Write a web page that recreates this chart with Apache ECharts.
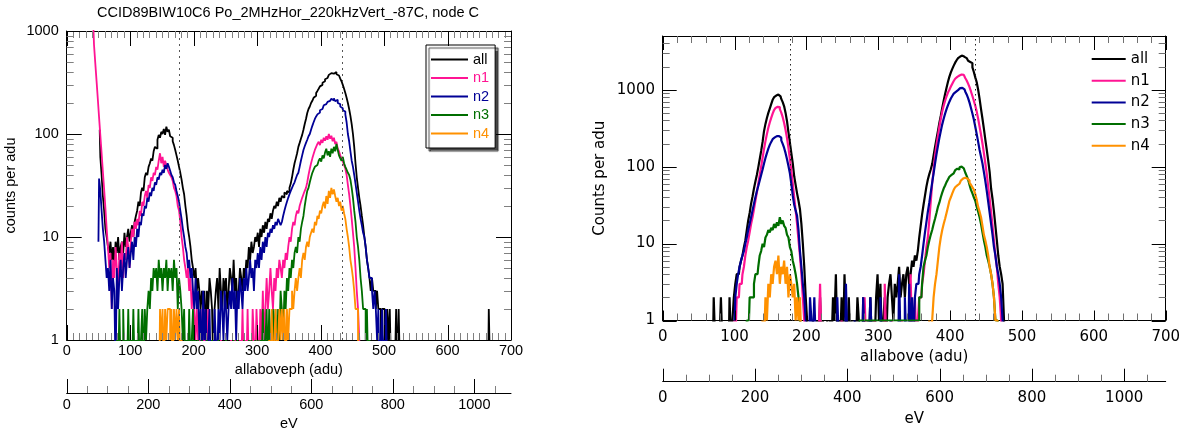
<!DOCTYPE html>
<html><head><meta charset="utf-8">
<script src="https://cdn.jsdelivr.net/npm/echarts@6.0.0/dist/echarts.min.js"></script>
<style>html,body{margin:0;padding:0;background:#fff}#c{width:1180px;height:429px}</style>
</head><body><div id="c"></div>
<script>
// ---------- data ----------
const BIN = 2;            // histogram bin width (adu)
const FLOOR = 0.5;        // empty bins are drawn below the log axis minimum
const EV_PER_ADU = 1.557; // secondary eV axis scale
const REF_ADU = [177.8, 434.5];
const SERIES_NAMES = ['all', 'n1', 'n2', 'n3', 'n4'];
const COLORS = ['#000000', '#ff1493', '#000096', '#006e00', '#ff9100'];
const TITLE_LEFT = 'CCID89BIW10C6 Po_2MHzHor_220kHzVert_-87C, node C';
const ADU_MAJOR = [0, 100, 200, 300, 400, 500, 600, 700];
const EV_MAJOR = [0, 200, 400, 600, 800, 1000];
const EV_MINOR = [50, 100, 150, 250, 300, 350, 450, 500, 550, 650, 700, 750, 850, 900, 950, 1050];
const LOG_MAJOR = [1, 10, 100, 1000];
const L_LOG_MINOR = [2,3,4,5,6,7,8,9,20,30,40,50,60,70,80,90,200,300,400,500,600,700,800,900];
const R_LOG_MINOR = [2,3,4,5,6,7,8,9,20,30,40,50,60,70,80,90,200,300,400,500,600,700,800,900,2000,3000,4000];

// left panel (allaboveph), segments: [first bin centre, counts...]
const L_all = [[52, [110,60,40,25,18,12,10,8,
  7,9,6,8,5,9,7,10,6,8,9,7,11,8,10,12,9,11,13,10,14,16,
  18,22,20,27,30,28,38,42,40,48,52,58,55,68,75,72,88,98,92,105,
  100,112,98,118,105,110,95,92,85,78,70,62,55,48,42,36,30,26,20,16,
  12,10,8,6,5,4,5,3,4,3,
  2,3,2,3,1,3,2,4,3,2,0,2,3,4,2,5,3,2,4,3,4,2,3,5,4,3,6,3,4,2,3,5,4,3,
  5,4,6,5,8,6,9,7,8,10, 9,11,8,12,10,13,11,14,12,15, 14,17,15,18,20,19,22,20,24,22,
  25,24,27,26,28,27,30,33,38,45, 52,58,65,75,82,90,98,110,125,140,
  160,175,185,200,210,225,235,250,262,275, 290,300,315,325,340,350,365,375,380,390,
  395,385,400,380,370,360,345,325,300,275, 250,225,200,175,150,125,100,75,52,38,
  30,24,20,16,13,10,8,6,5,4, 3,4,3,3,2,3,2,2,1,2, 2,1,0,2,1,2,0,0,1,0, 2,0,2,0]],
  [664, [0,2,0]]];
const L_n1 = [[42, [1100,740,490,330,220,145,97,65,43,29,19,12,
  8,5,7,2,6,4,8,5,3,7, 5,9,4,7,6,10,8,5,9,12, 10,14,12,15,13,18,16,22,20,25,
  28,24,32,30,38,35,42,40,48,45, 55,65,52,60,48,55,50,45,42,40, 38,35,30,28,25,20,18,14,10,8,
  6,5,4,5,3,4,2,3,2,1, 2,1,0,2,1,0,2,0,1,2, 0,1,0,1,0,0,1,0,0,1, 0,0,0,1,0,0,0,1,0,0,
  1,0,0,0,1,0,2,0,1,0, 2,0,1,0,2,1,0,2,1,0, 2,1,3,1,2,4,2,3,5,3, 2,4,3,5,4,6,5,4,6,5,
  7,6,8,10,9,12,14,13,16,18, 17,20,22,24,26,28,30,34,40,46, 52,58,64,70,75,80,84,78,88,82,
  92,86,95,88,100,90,96,85,92,80, 84,72,68,62,58,54,50,46,40,32, 26,20,15,11,8,5,3,2,1,0]]];
const L_n2 = [[50, [9,37,28,18,12,9,6,4,5,3, 6,2,4,3,0,5,2,4,6,3, 5,7,4,6,8,5,7,9,6,10,
  8,12,10,14,13,17,16,20,19,24, 22,27,25,30,28,34,32,38,36,42, 40,45,42,50,46,52,48,44,40,38,
  34,32,28,25,22,18,15,12,10,8, 7,5,6,4,5,3,2,4,2,3, 1,2,0,3,1,2,0,1,2,0, 1,0,2,1,0,2,1,3,2,1,
  3,2,1,2,3,2,4,2,3,1, 3,2,4,3,2,4,3,5,3,4, 6,4,5,3,6,5,7,5,8,6, 9,7,10,8,11,10,12,11,13,12,
  14,13,15,14,13,14,16,18,20,22, 24,26,28,30,32,34,37,40,42,48, 55,62,70,76,82,88,95,100,110,120,
  130,140,148,155,162,170,175,182,190,195, 200,205,210,215,220,212,222,208,215,200,
  195,185,178,170,165,155,130,100,85,68, 55,48,40,33,27,22,18,15,13,11, 10,8,6,5,4,4,3,2,3,2,
  1,2,0,1,2,0,1,2,0]]];
const L_n3 = [[78, [0,1,0,2,0,0,2,0,1,0, 2,0,1,0,2,0,1,0,2,0, 1,2,0,2,1,2,3,2,4,3, 5,4,5,3,6,4,5,3,5,4,
  6,3,5,4,5,3,6,4,5,2, 4,3,2,1,2,0,1,0,2,0, 1,2,0,1,0,1,0,0,1,0, 0,0,1,0,0,0,1,0,0,0,
  0,1,0,0,0,0,0,1,0,0, 0,0,0,1,0,0,1,0,0,0, 0,1,0,0,0,1,0,1,0,0, 1,0,1,0,1,0,2,0,1,2,
  0,2,1,0,2,1,2,0,2,1, 3,2,1,3,2,4,3,5,4,6, 5,7,8,7,10,9,12,14,16,20, 24,28,30,34,38,42,45,48,50,52,
  55,58,54,62,58,66,72,62,68,60, 72,65,75,68,80,70,62,58,55,60, 52,48,45,42,40,36,30,24,18,14,
  10,8,6,4,3,2,2,1,2,0, 1,0]]];
const L_n4 = [[146, [0,2,1,2,0,2,1,2,2,1,2,0,2,1,2,1,2,0,1,0]],
  [318, [0,1,0,2,0,1,2,0,1,2, 1,2,1,2,0,2,1,2,2,3, 2,3,4,3,4,5,4,6,7,6, 8,9,8,10,11,12,11,14,13,16,
  15,18,17,20,22,19,25,21,28,24, 30,26,29,25,22,24,20,22,18,20, 17,15,12,10,8,6,5,4,3,2, 2,1,0]]];

// right panel (allabove)
const R_all = [[70, [0,2,0,0,0,0,2,0,0,0, 0,0,2,0,1,2,3,4,4,5, 6,7,9,11,15,20,25,33,41,52,
  64,78,98,125,160,210,290,360,430,500, 570,650,740,800,840,865,860,820,760,690,
  610,500,390,280,205,150,110,75,58,45, 36,28,18,10,5,2,1,0,0,0, 1,0,0,1,0,2,0,1,0,0,
  1,0,1,0,2,1,4,0,1,0, 2,0,4,1,0,2,0,1,0,1, 0,2,1,0,0,2,1,0,1,0, 2,0,1,0,2,4,1,3,0,1,
  2,0,2,3,4,2,1,3,2,3, 5,2,3,4,2,4,5,3,4,6, 5,7,6,8,12,17,24,32,42,55, 68,80,92,108,140,180,230,290,370,460,
  580,720,880,1060,1270,1480,1680,1870,2060,2250, 2420,2580,2700,2780,2760,2680,2580,2470,2380,2300,
  2220,1950,1700,1450,1250,1000,760,560,420,310, 225,165,120,85,52,38,26,17,11,7, 5,4,3,1,0]]];
const R_n1 = [[100, [1,0,2,2,3,3,4,5,7,9, 11,14,18,22,28,36,46,60,78,100, 130,170,215,265,320,375,430,490,545,580,
  600,595,560,505,440,370,300,235,175,125, 88,60,40,27,18,11,7,4,2,1, 0,0,0,0,0,0,0,0,0,0,
  3,0,0,0,0,0,0,0,0,0, 0,0,0,0,0,1,0,0,0,0, 0,0,0,0,0,0,0,0,0,0, 0,2,0,0,0,0,0,0,1,0,
  0,0,0,0,0,3,0,0,0,0, 1,0,0,0,0,0,0,1,0,0, 0,0,0,4,0,0,2,0,1,2, 2,3,4,6,9,12,20,35,60,90,
  140,190,250,330,420,520,620,720,820,920, 1000,1100,1200,1300,1390,1470,1530,1570,1580,1560,
  1500,1420,1320,1200,1080,950,830,720,620,520, 420,330,260,200,150,110,80,55,38,26, 17,11,7,5,3,2,1,0]]];
const R_n2 = [[100, [1,2,3,4,5,6,7,8,10,12, 15,18,22,27,33,40,48,56,66,78, 92,110,130,150,172,192,210,228,240,250,
  255,250,238,220,198,175,150,125,102,82, 60,42,32,27,23,15,8,5,3,2, 1,0,0,2,1,0,2,0,0,0,
  0,0,0,0,0,0,0,0,0,0, 0,0,2,0,0,0,0,0,3,0, 0,0,0,0,1,0,0,0,0,0, 2,0,0,0,0,2,0,0,0,0,
  0,0,2,0,0,0,0,0,0,1, 0,0,0,0,0,4,0,0,0,2, 0,0,3,0,2,0,2,3,3,4, 5,7,10,14,19,26,34,46,62,82,
  110,145,185,235,290,355,420,490,560,630, 700,770,830,890,940,990,1030,1050,1060,1050,
  1010,950,870,780,680,580,490,410,330,265, 210,165,135,110,85,65,48,35,25,18, 13,9,7,5,4,3,2,1,0]]];
const R_n3 = [[116, [0,1,1,2,2,2,3,4,4,5, 7,8,10,9,12,13,15,14,16,15, 18,16,19,17,22,18,20,17,16,13, 12,9,8,6,5,4,3,2,1,0]],
  [354, [1,1,2,2,3,5,6,7,9,11, 13,15,18,21,25,30,34,40,46,52, 57,63,68,74,78,82,86,90,94,92,
  98,100,95,90,84,76,68,58,50,45, 40,36,30,26,22,18,14,11,9,7, 6,5,4,3,2,1,1,0]]];
const R_n4 = [[138, [0,1,0,2,1,3,2,4,3,5, 6,4,7,3,5,4,6,3,5,2, 4,3,2,3,1,2,1,2,0]],
  [370, [0,1,0,1,2,3,4,6,9,12, 15,18,21,25,30,36,40,45,50,54, 57,60,62,66,70,72,74,70,66,62,
  58,54,50,44,37,30,26,22,17,13, 11,9,7,5,4,3,2,1,1,0]]];

const LEFT_DATA = [L_all, L_n1, L_n2, L_n3, L_n4];
const RIGHT_DATA = [R_all, R_n1, R_n2, R_n3, R_n4];

// ---------- build ----------
function toPoints(segs) {
  const pts = [];
  segs.forEach(([start, vals]) => vals.forEach((v, i) => pts.push([start + i * BIN, v > 0 ? v : FLOOR])));
  return pts;
}
const LFONT = {fontFamily: 'Liberation Sans', fontSize: 14.5, color: '#000'};
const RFONT = {fontFamily: 'DejaVu Sans', fontSize: 15, color: '#000'};
const BLACK = {color: '#000', width: 1};
const fmtInt = v => String(Math.round(v));

function aduAxis(g, pos, font, margin, name, nameGap) {
  return {gridIndex: g, type: 'value', position: pos, min: 0, max: 700, interval: 100,
    axisLine: {show: true, onZero: false, lineStyle: BLACK},
    axisTick: {show: false}, minorTick: {show: false},
    axisLabel: Object.assign({show: pos === 'bottom', margin: margin, formatter: fmtInt}, font),
    splitLine: {show: false}, minorSplitLine: {show: false},
    name: name || '', nameLocation: 'middle', nameGap: nameGap || 0, nameTextStyle: Object.assign({}, font)};
}
function evAxis(g, offset, font, margin, nameGap) {
  return {gridIndex: g, type: 'value', position: 'bottom', offset: offset, min: 0,
    max: 700 * EV_PER_ADU, interval: 50, splitLine: {show: false},
    axisLine: {show: true, onZero: false, lineStyle: BLACK},
    axisTick: {show: false}, minorTick: {show: false},
    axisLabel: Object.assign({show: true, customValues: EV_MAJOR, margin: margin, formatter: fmtInt}, font),
    name: 'eV', nameLocation: 'middle', nameGap: nameGap, nameTextStyle: Object.assign({}, font)};
}
function logAxis(g, pos, max, font, margin, showMax, name, nameGap) {
  return {gridIndex: g, type: 'log', logBase: 10, position: pos, min: 1, max: max,
    axisLine: {show: true, onZero: false, lineStyle: BLACK},
    axisTick: {show: false}, minorTick: {show: false},
    axisLabel: Object.assign({show: pos === 'left', margin: margin, showMaxLabel: showMax, formatter: fmtInt}, font),
    splitLine: {show: false},
    name: name || '', nameLocation: 'middle', nameGap: nameGap || 0, nameTextStyle: Object.assign({}, font)};
}

// tick marks: kind 0 bottom adu, 1 top adu, 2 left log, 3 right log, 4 eV (offset axis)
function tickItems(cfg) {
  const items = [];
  ADU_MAJOR.forEach(v => { items.push([0, v, cfg.xMaj, 0]); items.push([1, v, cfg.xTopMaj, 0]); });
  for (let v = cfg.xMinorStep; v < 700; v += cfg.xMinorStep) {
    if (v % 100 !== 0) { items.push([0, v, cfg.xMin, 1]); items.push([1, v, cfg.xMin, 1]); }
  }
  LOG_MAJOR.forEach(v => { items.push([2, v, cfg.yMaj, 0]); items.push([3, v, cfg.yMaj, 0]); });
  cfg.logMinor.forEach(v => { items.push([2, v, cfg.yMin, 1]); items.push([3, v, cfg.yMin, 1]); });
  EV_MAJOR.forEach(v => items.push([4, v, cfg.evMaj, 0]));
  EV_MINOR.forEach(v => items.push([4, v, cfg.evMin, 1]));
  return items;
}
function tickSeries(xi, yi, cfg) {
  return {type: 'custom', coordinateSystem: 'cartesian2d', xAxisIndex: xi, yAxisIndex: yi,
    silent: true, z: 6, animation: false, clip: false, data: tickItems(cfg),
    encode: {x: 1, y: 1},
    renderItem: function (params, api) {
      const cs = params.coordSys;
      const kind = api.value(0), v = api.value(1), len = api.value(2), minor = api.value(3);
      const color = minor ? cfg.minorColor : '#000';
      let x1, y1, x2, y2;
      if (kind === 0 || kind === 1 || kind === 4) {
        const xv = kind === 4 ? v / EV_PER_ADU : v;
        const x = Math.round(api.coord([xv, 10])[0]) + 0.5;
        const base = kind === 1 ? cs.y : (kind === 0 ? cs.y + cs.height : cs.y + cs.height + cfg.evOffset);
        const dir = kind === 1 ? 1 : -1;
        x1 = x; x2 = x; y1 = base; y2 = base + dir * len;
      } else {
        const y = Math.round(api.coord([0, v])[1]) + 0.5;
        const base = kind === 2 ? cs.x : cs.x + cs.width;
        const dir = kind === 2 ? 1 : -1;
        y1 = y; y2 = y; x1 = base; x2 = base + dir * len;
      }
      return {type: 'line', shape: {x1: x1, y1: y1, x2: x2, y2: y2}, style: {stroke: color, lineWidth: 1}};
    }};
}
function lineSeries(name, segs, color, width, xi, yi, refStyle) {
  const s = {type: 'line', name: name, step: 'middle', xAxisIndex: xi, yAxisIndex: yi,
    data: toPoints(segs), symbol: 'none', showSymbol: false, animation: false, clip: true,
    color: color, lineStyle: {color: color, width: width}};
  if (refStyle) {
    s.markLine = {silent: true, symbol: ['none', 'none'], label: {show: false}, animation: false,
      lineStyle: refStyle, data: REF_ADU.map(x => ({xAxis: x}))};
  }
  return s;
}

const LEFT_EV_OFFSET = 53, RIGHT_EV_OFFSET = 61.2;
const series = [];
SERIES_NAMES.forEach((n, i) => series.push(lineSeries(n, LEFT_DATA[i], COLORS[i], 1.8, 0, 0,
  i === 0 ? {type: [2, 4], color: '#555', width: 1} : null)));
series.push(tickSeries(0, 0, {xMaj: 15, xTopMaj: 15, xMin: 7, xMinorStep: 10, yMaj: 15, yMin: 7,
  logMinor: L_LOG_MINOR, evMaj: 14, evMin: 7, evOffset: LEFT_EV_OFFSET, minorColor: '#808080'}));
SERIES_NAMES.forEach((n, i) => series.push(lineSeries(n, RIGHT_DATA[i], COLORS[i], 2.2, 3, 2,
  i === 0 ? {type: [1.5, 3.5], color: '#222', width: 1} : null)));
series.push(tickSeries(3, 2, {xMaj: 10, xTopMaj: 14, xMin: 7, xMinorStep: 20, yMaj: 14, yMin: 7,
  logMinor: R_LOG_MINOR, evMaj: 13, evMin: 7, evOffset: RIGHT_EV_OFFSET, minorColor: '#707070'}));

const option = {
  animation: false,
  backgroundColor: '#fff',
  title: {text: TITLE_LEFT, left: 97, top: 5, padding: 0,
    textStyle: {fontFamily: 'Liberation Sans', fontSize: 14.5, fontWeight: 'normal', color: '#000'}},
  grid: [
    {left: 66.7, top: 31, width: 444.3, height: 309, containLabel: false, outerBoundsMode: 'none'},
    {left: 662.7, top: 36, width: 503, height: 284.5, containLabel: false, outerBoundsMode: 'none'}
  ],
  xAxis: [
    aduAxis(0, 'bottom', LFONT, 3, 'allaboveph (adu)', 18),
    aduAxis(0, 'top', LFONT, 3),
    evAxis(0, LEFT_EV_OFFSET, LFONT, 4, 13),
    aduAxis(1, 'bottom', RFONT, 9, 'allabove (adu)', 27),
    aduAxis(1, 'top', RFONT, 9),
    evAxis(1, RIGHT_EV_OFFSET, RFONT, 9, 29.5)
  ],
  yAxis: [
    logAxis(0, 'left', 1000, LFONT, 8, true, 'counts per adu', 48),
    logAxis(0, 'right', 1000, LFONT, 8, true),
    logAxis(1, 'left', 5000, RFONT, 7.7, false, 'Counts per adu', 55),
    logAxis(1, 'right', 5000, RFONT, 7.7, false)
  ],
  legend: [
    {left: 426, top: 45, orient: 'vertical', itemWidth: 37, itemHeight: 14, itemGap: 3.5,
      padding: [7, 6, 7, 4], backgroundColor: '#fff', borderColor: '#000', borderWidth: 1,
      shadowColor: 'rgba(40,40,40,0.85)', shadowOffsetX: 3, shadowOffsetY: 3, shadowBlur: 1,
      selectedMode: false, textStyle: Object.assign({}, LFONT),
      itemStyle: {color: 'rgba(0,0,0,0)', borderWidth: 0, opacity: 0},
      data: SERIES_NAMES.map((n, i) => ({name: n, textStyle: {color: COLORS[i]}}))},
    {left: 1090.7, top: 51.5, orient: 'vertical', itemWidth: 34, itemHeight: 15, itemGap: 6.7,
      padding: 0, selectedMode: false, textStyle: Object.assign({}, RFONT),
      itemStyle: {color: 'rgba(0,0,0,0)', borderWidth: 0, opacity: 0},
      data: SERIES_NAMES.slice()}
  ],
  series: series
};
const chart = echarts.init(document.getElementById('c'), null, {renderer: 'canvas'});
chart.setOption(option);
</script>
</body></html>
